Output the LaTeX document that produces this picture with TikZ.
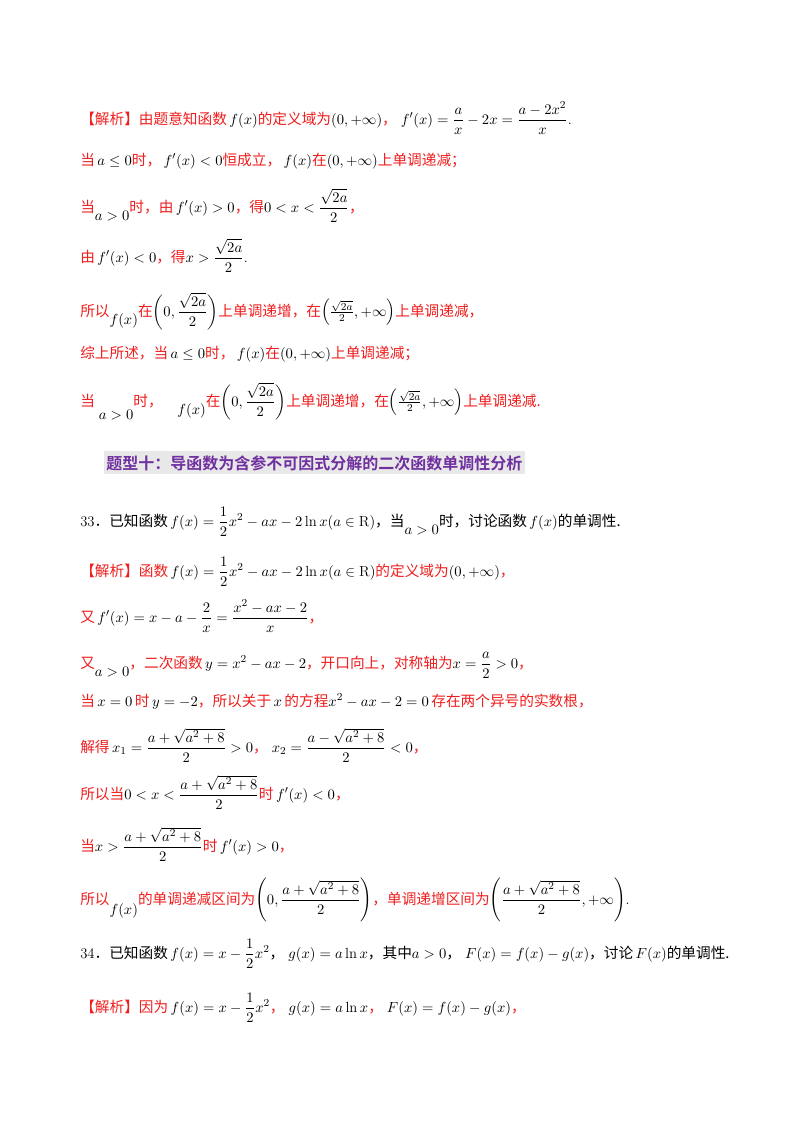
\documentclass[tikz,border=0pt]{standalone}
\usepackage{fontspec}
\usepackage{amsmath,amssymb}
\newfontfamily\cjk{Noto Sans CJK SC}
\newfontfamily\cjkb{Noto Sans CJK SC Bold}
\definecolor{jred}{RGB}{240,30,30}
\definecolor{jpurple}{RGB}{112,48,160}
\newcommand{\rt}[1]{\textcolor{jred}{\cjk #1}}
\newcommand{\bt}[1]{{\cjk #1}}
\tikzset{ln/.style={anchor=base west,inner sep=0pt,font=\fontsize{11}{13}\selectfont}}
\begin{document}
\begin{tikzpicture}[x=0.75pt,y=-0.75pt]
\useasboundingbox (0,0) rectangle (800,1132);
\fill[white] (0,0) rectangle (800,1132);
\node[ln] (l1) at (80,124) {\rt{【解析】由题意知函数}\,$f(x)$\rt{的定义域为}$(0,+\infty)$\rt{，}\;$f'(x)=\dfrac{a}{x}-2x=\dfrac{a-2x^2}{x}$.};
\node[ln] (l2) at (80,165) {\rt{当}\,$a\le 0$\rt{时，}\,$f'(x)<0$\rt{恒成立，}\,$f(x)$\rt{在}$(0,+\infty)$\rt{上单调递减；}};
\node[ln] (l3) at (80,212) {\rt{当}\raisebox{-6pt}{$a>0$}\rt{时，由}\,$f'(x)>0$\rt{，得}$0<x<\dfrac{\sqrt{2a}}{2}$\rt{，}};
\node[ln] (l4) at (80,262) {\rt{由}\,$f'(x)<0$\rt{，得}$x>\dfrac{\sqrt{2a}}{2}$.};
\node[ln] (l5) at (80,316) {\rt{所以}\raisebox{-6pt}{$f(x)$}\rt{在}$\left(0,\dfrac{\sqrt{2a}}{2}\right)$\rt{上单调递增，在}$\left(\frac{\sqrt{2a}}{2},+\infty\right)$\rt{上单调递减，}};
\node[ln] (l6) at (80,358) {\rt{综上所述，当}\,$a\le 0$\rt{时，}\,$f(x)$\rt{在}$(0,+\infty)$\rt{上单调递减；}};
\node[ln] (l7) at (80,406) {\rt{当}\raisebox{-10pt}{$\;a>0$}\rt{时，}\quad\raisebox{-6pt}{$f(x)$}\rt{在}$\left(0,\dfrac{\sqrt{2a}}{2}\right)$\rt{上单调递增，在}$\left(\frac{\sqrt{2a}}{2},+\infty\right)$\rt{上单调递减.}};
\fill[gray!18] (104,451) rectangle (525,474);
\node[ln,font=\fontsize{12}{14}\selectfont] (h) at (106,469) {\textcolor{jpurple}{\cjkb 题型十：导函数为含参不可因式分解的二次函数单调性分析}};
\node[ln] (q33) at (80,526) {33\bt{．已知函数}\,$f(x)=\dfrac12x^2-ax-2\ln x(a\in\mathrm{R})$\bt{，当}\raisebox{-6pt}{$a>0$}\bt{时，讨论函数}\,$f(x)$\bt{的单调性.}};
\node[ln] (s1) at (80,576) {\rt{【解析】函数}\,$f(x)=\dfrac12x^2-ax-2\ln x(a\in\mathrm{R})$\rt{的定义域为}$(0,+\infty)$\rt{，}};
\node[ln] (s2) at (80,622) {\rt{又}\,$f'(x)=x-a-\dfrac2x=\dfrac{x^2-ax-2}{x}$\rt{，}};
\node[ln] (s3) at (80,668) {\rt{又}\raisebox{-6pt}{$a>0$}\rt{，二次函数}\,$y=x^2-ax-2$\rt{，开口向上，对称轴为}$x=\dfrac a2>0$\rt{，}};
\node[ln] (s4) at (80,706) {\rt{当}\,$x=0$\,\rt{时}\,$y=-2$\rt{，所以关于}\,$x$\,\rt{的方程}$x^2-ax-2=0$\,\rt{存在两个异号的实数根，}};
\node[ln] (s5) at (80,752) {\rt{解得}\,$x_1=\dfrac{a+\sqrt{a^2+8}}{2}>0$\rt{，}\;$x_2=\dfrac{a-\sqrt{a^2+8}}{2}<0$\rt{，}};
\node[ln] (s6) at (80,799) {\rt{所以当}$0<x<\dfrac{a+\sqrt{a^2+8}}{2}$\rt{时}\,$f'(x)<0$\rt{，}};
\node[ln] (s7) at (80,851) {\rt{当}$x>\dfrac{a+\sqrt{a^2+8}}{2}$\rt{时}\,$f'(x)>0$\rt{，}};
\node[ln] (s8) at (80,904) {\rt{所以}\raisebox{-8pt}{$f(x)$}\rt{的单调递减区间为}$\left(0,\dfrac{a+\sqrt{a^2+8}}{2}\right)$\rt{，单调递增区间为}$\left(\dfrac{a+\sqrt{a^2+8}}{2},+\infty\right)$.};
\node[ln] (q34) at (80,958) {34\bt{．已知函数}\,$f(x)=x-\dfrac12x^2$\bt{，}\;$g(x)=a\ln x$\bt{，其中}$a>0$\bt{，}\;$F(x)=f(x)-g(x)$\bt{，讨论}\,$F(x)$\bt{的单调性.}};
\node[ln] (t1) at (80,1012) {\rt{【解析】因为}\,$f(x)=x-\dfrac12x^2$\rt{，}\;$g(x)=a\ln x$\rt{，}\;$F(x)=f(x)-g(x)$\rt{，}};
\end{tikzpicture}
\end{document}
